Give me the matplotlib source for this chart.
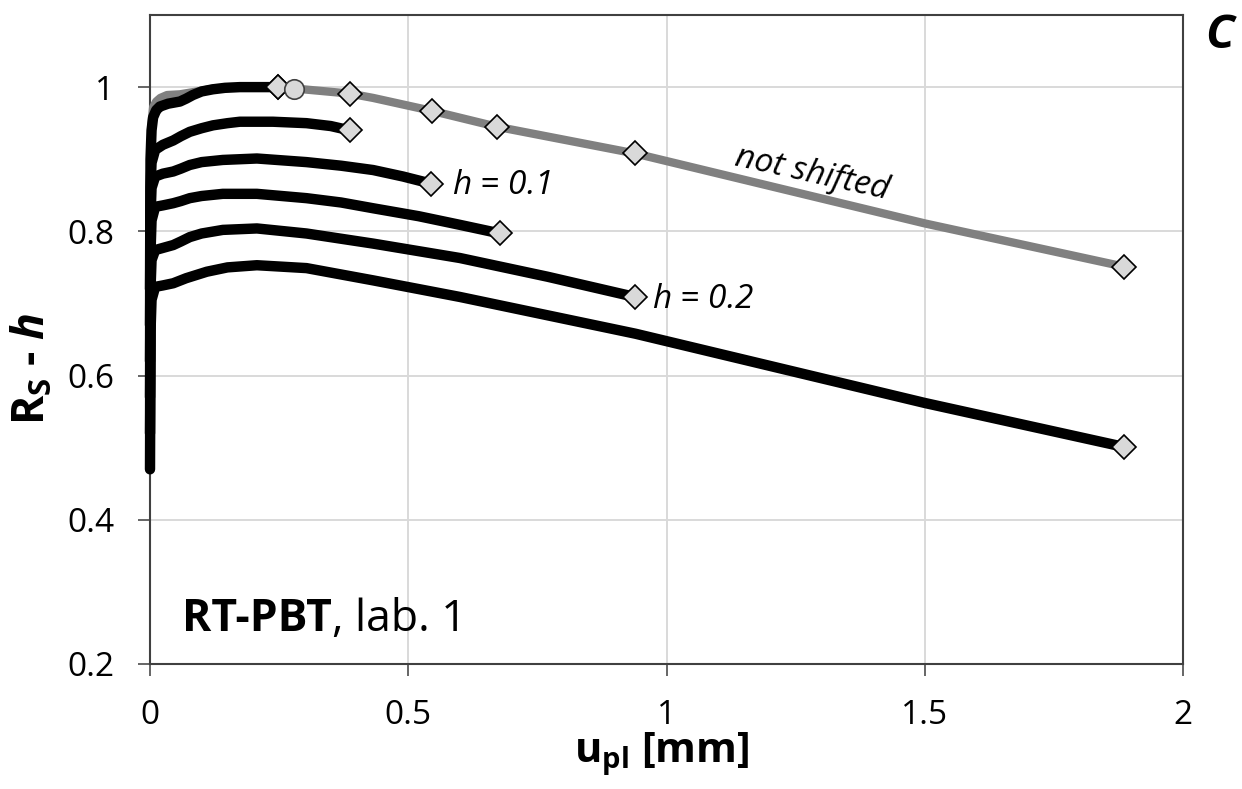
import numpy as np
import matplotlib
matplotlib.use('Agg')
import matplotlib.pyplot as plt

plt.rcParams['font.family'] = ['Open Sans', 'DejaVu Sans']
plt.rcParams['mathtext.fontset'] = 'custom'
plt.rcParams['mathtext.rm'] = 'Open Sans'
plt.rcParams['mathtext.it'] = 'Open Sans:italic'
plt.rcParams['mathtext.bf'] = 'Open Sans:bold'
plt.rcParams['mathtext.bfit'] = 'Open Sans:bold:italic'

# not shifted curve (grey)
gray_x = [0.0, 0.001, 0.003, 0.006, 0.012, 0.02, 0.033, 0.058, 0.083, 0.1, 0.122, 0.15,
          0.174, 0.25, 0.296, 0.387, 0.432, 0.546, 0.672, 0.939, 1.5, 1.886]
gray_y = [0.72, 0.90, 0.95, 0.972, 0.98, 0.985, 0.989, 0.990, 0.993, 0.995, 0.998, 0.999,
          1.0, 1.0, 0.997, 0.991, 0.985, 0.967, 0.945, 0.908, 0.811, 0.751]

# shifted curves R_S - h, h = 0 ... 0.25
h0_x = [0.0, 0.001, 0.003, 0.006, 0.012, 0.019, 0.035, 0.058, 0.07, 0.083, 0.1, 0.122,
        0.145, 0.174, 0.21, 0.248]
h0_y = [0.72, 0.90, 0.94, 0.958, 0.968, 0.973, 0.977, 0.980, 0.984, 0.989, 0.994, 0.997,
        0.999, 1.0, 1.0, 1.0]
h05_x = [0.0, 0.001, 0.003, 0.01, 0.025, 0.045, 0.06, 0.077, 0.1, 0.122, 0.15, 0.174,
         0.238, 0.303, 0.35, 0.387]
h05_y = [0.67, 0.86, 0.895, 0.913, 0.92, 0.926, 0.932, 0.938, 0.943, 0.947, 0.950, 0.952,
         0.952, 0.95, 0.946, 0.940]
h10_x = [0.0, 0.001, 0.003, 0.01, 0.025, 0.045, 0.06, 0.077, 0.1, 0.141, 0.207, 0.303,
         0.37, 0.432, 0.49, 0.545]
h10_y = [0.62, 0.82, 0.86, 0.876, 0.880, 0.883, 0.887, 0.892, 0.896, 0.899, 0.901, 0.896,
         0.891, 0.885, 0.876, 0.866]
h15_x = [0.0, 0.001, 0.003, 0.01, 0.025, 0.045, 0.06, 0.077, 0.1, 0.141, 0.207, 0.303,
         0.37, 0.432, 0.52, 0.6, 0.678]
h15_y = [0.57, 0.77, 0.815, 0.834, 0.836, 0.839, 0.842, 0.846, 0.849, 0.852, 0.852, 0.846,
         0.84, 0.832, 0.821, 0.809, 0.797]
h20_x = [0.0, 0.001, 0.003, 0.01, 0.025, 0.045, 0.06, 0.077, 0.1, 0.141, 0.207, 0.303,
         0.432, 0.6, 0.77, 0.939]
h20_y = [0.52, 0.72, 0.76, 0.774, 0.777, 0.781, 0.786, 0.792, 0.797, 0.802, 0.804, 0.797,
         0.783, 0.763, 0.737, 0.709]
h25_x = [0.0, 0.001, 0.003, 0.01, 0.025, 0.045, 0.07, 0.11, 0.15, 0.207, 0.303, 0.432,
         0.6, 0.94, 1.5, 1.886]
h25_y = [0.47, 0.66, 0.705, 0.723, 0.725, 0.728, 0.735, 0.744, 0.750, 0.753, 0.749, 0.732,
         0.709, 0.658, 0.562, 0.501]

# end points on the grey curve
diam_x = [0.248, 0.387, 0.546, 0.672, 0.939, 1.886]
diam_y = [1.0, 0.991, 0.967, 0.945, 0.908, 0.751]
circ_x = [0.279]
circ_y = [0.997]

xticks = [0, 0.5, 1, 1.5, 2]
yticks = [0.2, 0.4, 0.6, 0.8, 1.0]
xtick_labels = ['0', '0.5', '1', '1.5', '2']
ytick_labels = ['0.2', '0.4', '0.6', '0.8', '1']

fig = plt.figure(figsize=(12.42, 7.89), dpi=100)
ax = fig.add_axes([150/1242, 1 - 664/789, 1033/1242, 649/789])

ax.plot(gray_x, gray_y, color='#808080', lw=6, solid_capstyle='round',
        solid_joinstyle='round', zorder=2, clip_on=False)
black = [(h0_x, h0_y), (h05_x, h05_y), (h10_x, h10_y), (h15_x, h15_y),
         (h20_x, h20_y), (h25_x, h25_y)]
for bx, by in black:
    # markers in the original are not clipped at the axis, so neither is the line
    ax.plot(bx, by, color='black', lw=7.5, solid_capstyle='round',
            solid_joinstyle='round', zorder=3, clip_on=False)
    ax.plot(bx[-1], by[-1], 'D', ms=12, mfc='#d9d9d9', mec='black', mew=1.2, zorder=5)

ax.plot(diam_x, diam_y, 'D', ls='none', ms=12, mfc='#d9d9d9', mec='black', mew=1.2, zorder=5)
ax.plot(circ_x, circ_y, 'o', ms=14, mfc='#d9d9d9', mec='#404040', mew=1.2, zorder=6)

ax.set_xlim(0, 2)
ax.set_ylim(0.2, 1.1)
ax.set_xticks(xticks)
ax.set_xticklabels(xtick_labels)
ax.set_yticks(yticks)
ax.set_yticklabels(ytick_labels)
ax.tick_params(direction='out', length=8.5, width=1.3, color='#595959',
               labelsize=24, pad=17)
ax.grid(True, color='#d9d9d9', lw=1.4, zorder=0)
ax.set_axisbelow(True)
for sp in ax.spines.values():
    sp.set_color('#404040')
    sp.set_linewidth(1.5)
    sp.set_zorder(1)

ax.text(0.585, 0.864, r'$h$ = 0.1', fontsize=24, style='italic', va='center', ha='left')
ax.text(0.972, 0.706, r'$h$ = 0.2', fontsize=24, style='italic', va='center', ha='left')
ax.text(1.282, 0.880, 'not shifted', fontsize=24, style='italic', va='center', ha='center',
        rotation=-12.5, rotation_mode='anchor')
t = ax.text(0.062, 0.2455, 'RT-PBT', fontsize=32, fontweight='bold', va='baseline', ha='left')
fig.canvas.draw()
bb = t.get_window_extent().transformed(ax.transData.inverted())
ax.text(bb.x1, 0.2455, ', lab. 1', fontsize=32, va='baseline', ha='left')

fig.text(1220/1242, 1 - 35/789, 'C', fontsize=34, fontweight='bold', style='italic',
         ha='center', va='center')
fig.text(33/1242, 1 - 369/789, r'R$_{\mathbf{S}}$ - $\mathbfit{h}$', fontsize=32,
         fontweight='bold', rotation=90, ha='center', va='center')
fig.text(662/1242, 1 - 754/789, r'u$_{\mathbf{pl}}$ [mm]', fontsize=30,
         fontweight='bold', ha='center', va='center')

fig.savefig('out.png', dpi=100)
